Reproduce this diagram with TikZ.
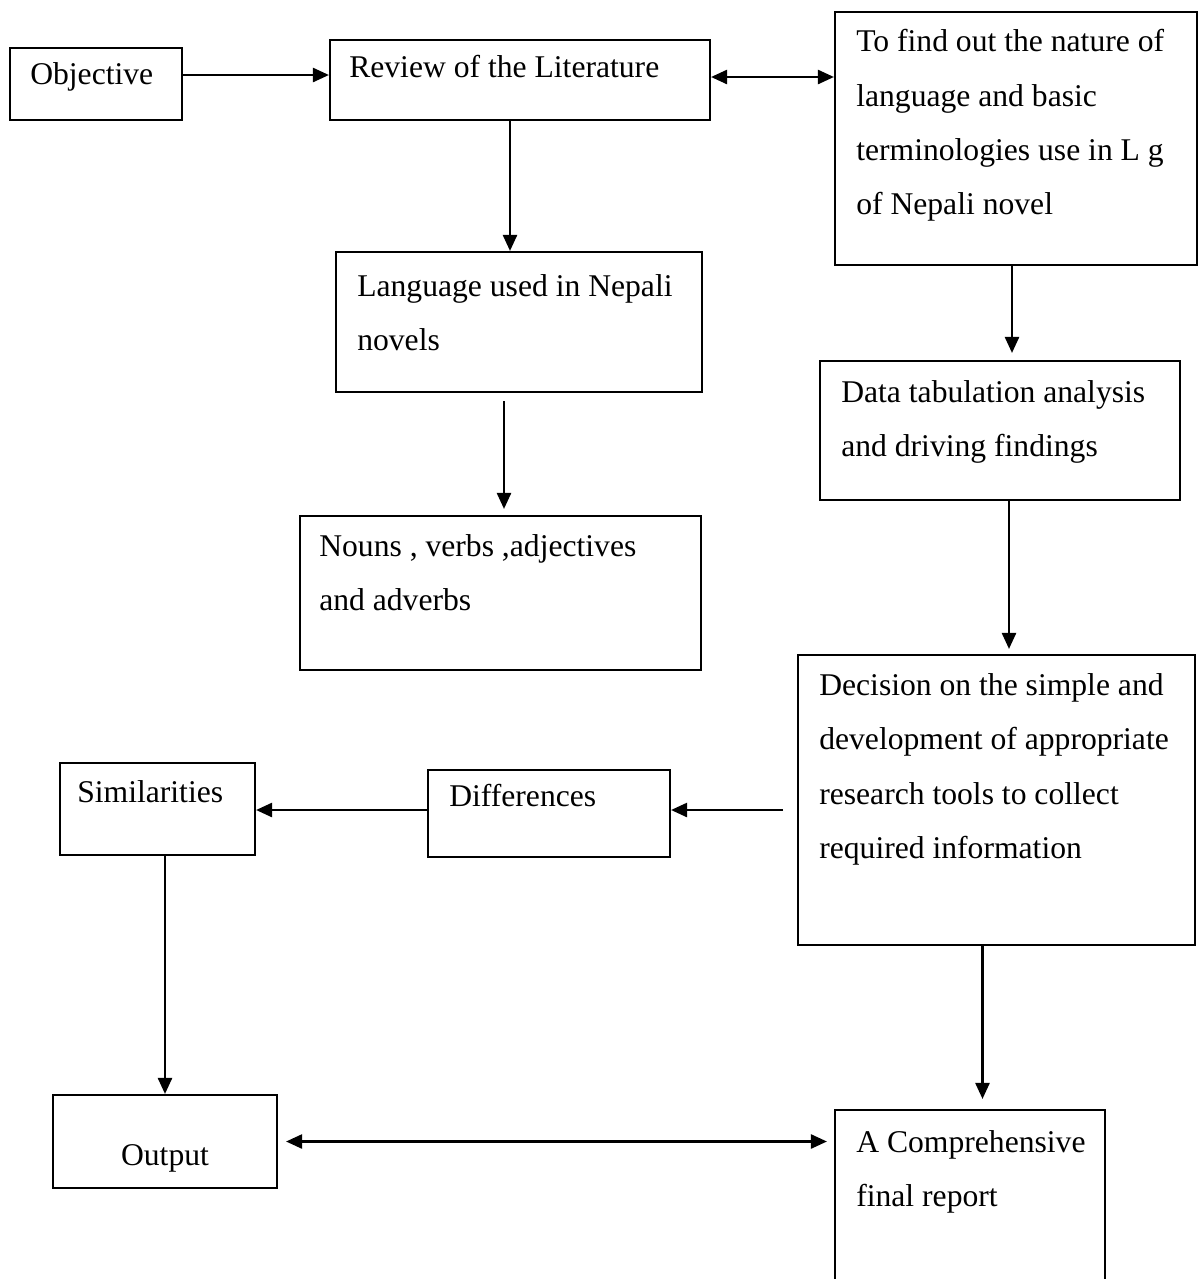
\documentclass[tikz,border=0pt]{standalone}
\usepackage{fontspec}
\setmainfont{Liberation Serif}
\usetikzlibrary{arrows.meta,fit,calc}

\tikzset{
  box/.style={draw=black, line width=1.2pt, inner sep=0pt},
  lbl/.style={anchor=north west, inner sep=0pt, align=left, font=\fontsize{18}{31}\selectfont},
  arr/.style={line width=1.4pt, -{Triangle[length=0.32cm,width=0.28cm]}},
  darr/.style={line width=1.4pt, {Triangle[length=0.32cm,width=0.28cm]}-{Triangle[length=0.32cm,width=0.28cm]}}
}

\begin{document}
\begin{tikzpicture}[x=0.02cm, y=-0.02cm]
\clip (0,0) rectangle (1202,1279);

% boxes
\node[box, fit={(10,48) (182,120)}] (obj) {};
\node[box, fit={(330,40) (710,120)}] (rev) {};
\node[box, fit={(835,12) (1197,265)}] (find) {};
\node[box, fit={(336,252) (702,392)}] (lang) {};
\node[box, fit={(820,361) (1180,500)}] (data) {};
\node[box, fit={(300,516) (701,670)}] (parts) {};
\node[box, fit={(798,655) (1195,945)}] (deci) {};
\node[box, fit={(60,763) (255,855)}] (simi) {};
\node[box, fit={(428,770) (670,857)}] (diff) {};
\node[box, fit={(53,1095) (277,1188)}] (outp) {};
\node[box, fit={(835,1110) (1105,1300)}] (comp) {};

% texts
\node[lbl] (objT) at ([shift={(21,15)}]obj.north west) {Objective};
\node[lbl] (revT) at ([shift={(20,16)}]rev.north west) {Review of the Literature};
\node[lbl] (findT) at ([shift={(22,18)}]find.north west) {To find out the nature of\\language and basic\\terminologies use in L g\\of Nepali novel};
\node[lbl] (langT) at ([shift={(22,23)}]lang.north west) {Language used in Nepali\\novels};
\node[lbl] (dataT) at ([shift={(22,20)}]data.north west) {Data tabulation analysis\\and driving findings};
\node[lbl] (partsT) at ([shift={(20,19)}]parts.north west) {Nouns , verbs ,adjectives\\and adverbs};
\node[lbl] (deciT) at ([shift={(22,19)}]deci.north west) {Decision on the simple and\\development of appropriate\\research tools to collect\\required information};
\node[lbl] (simiT) at ([shift={(18,18)}]simi.north west) {Similarities};
\node[lbl] (diffT) at ([shift={(22,15)}]diff.north west) {Differences};
\node[lbl, anchor=north] (outpT) at ([shift={(0,50)}]outp.north) {Output};
\node[lbl] (compT) at ([shift={(22,21)}]comp.north west) {A Comprehensive\\final report};

% connectors
\coordinate (gap) at (783,810);
\draw[arr] ([shift={(0,-9)}]obj.east) -- ([shift={(0,-9)}]obj.east -| rev.west);
\draw[darr] ([shift={(0,-3)}]rev.east) -- ([shift={(0,-3)}]rev.east -| find.west);
\draw[arr] ([shift={(-10,0)}]rev.south) -- ([shift={(-10,0)}]rev.south |- lang.north);
\draw[arr, shorten <=0.16cm, shorten >=0.12cm] ([shift={(-15,0)}]lang.south) -- ([shift={(-15,0)}]lang.south |- parts.north);
\draw[arr, shorten >=0.14cm] ([shift={(-4,0)}]find.south) -- ([shift={(-4,0)}]find.south |- data.north);
\draw[arr, shorten >=0.1cm] ([shift={(9,0)}]data.south) -- ([shift={(9,0)}]data.south |- deci.north);
\draw[arr] (gap) -- (gap -| diff.east);
\draw[arr] (gap -| diff.west) -- (gap -| simi.east);
\draw[arr] (simi.south -| outp.north) -- (outp.north);
\draw[arr, shorten >=0.2cm] ([shift={(-14,0)}]deci.south) -- ([shift={(-14,0)}]deci.south |- comp.north);
\draw[darr, shorten <=0.16cm, shorten >=0.14cm] (outp.east) -- (outp.east -| comp.west);
\end{tikzpicture}
\end{document}
